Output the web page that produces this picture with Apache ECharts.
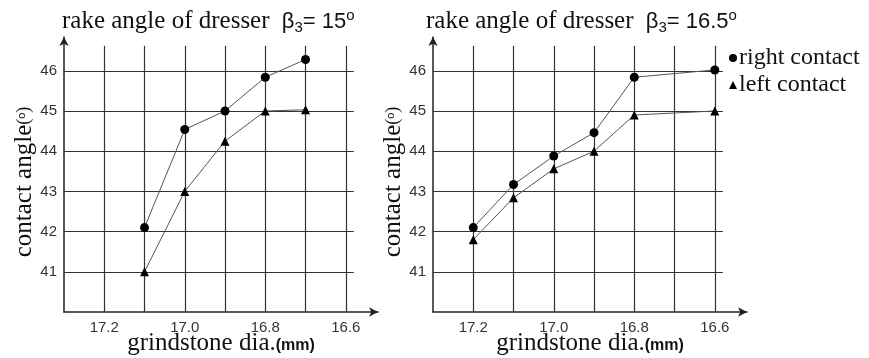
<!DOCTYPE html>
<html><head><meta charset="utf-8">
<script src="https://cdn.jsdelivr.net/npm/echarts@6/dist/echarts.min.js"></script>
<style>html,body{margin:0;padding:0;background:#fff}#c{width:869px;height:358px}</style>
</head><body><div id="c"></div>
<script>
// ---- data ----
const dia15 = [17.1, 17.0, 16.9, 16.8, 16.7];
const right15 = [42.1, 44.54, 45.0, 45.84, 46.28];
const left15 = [41.0, 43.0, 44.25, 45.0, 45.03];
const dia165 = [17.2, 17.1, 17.0, 16.9, 16.8, 16.6];
const right165 = [42.1, 43.17, 43.88, 44.46, 45.84, 46.02];
const left165 = [41.8, 42.84, 43.56, 44.0, 44.9, 45.0];
const xTickLabels = [17.2, 17.0, 16.8, 16.6];
const yTickLabels = [41, 42, 43, 44, 45, 46];
const xGridValues = [17.2, 17.1, 17.0, 16.9, 16.8, 16.7, 16.6];
const yGridValues = [41, 42, 43, 44, 45, 46];

const SERIF = 'Liberation Serif', SANS = 'Liberation Sans';
const X_MIN = 16.52, X_MAX = 17.3, Y_MIN = 40, Y_MAX = 46.84;
const GRID_TOP_VAL = 46.62, GRID_RIGHT_VAL = 16.58;

function pairs(xs, ys) { return xs.map((x, i) => [x, ys[i]]); }

function gridLines() {
  const d = [];
  xGridValues.forEach(x => d.push([{ coord: [x, Y_MIN] }, { coord: [x, GRID_TOP_VAL] }]));
  yGridValues.forEach(y => d.push([{ coord: [X_MAX, y] }, { coord: [GRID_RIGHT_VAL, y] }]));
  return d;
}

function xAxis(i) {
  return {
    type: 'value', gridIndex: i, inverse: true, min: X_MIN, max: X_MAX,
    splitLine: { show: false }, axisTick: { show: false },
    axisLine: { show: true, lineStyle: { color: '#222', width: 1.5 }, symbol: ['none', 'arrow'], symbolSize: [7, 9] },
    axisLabel: { customValues: xTickLabels, formatter: v => v.toFixed(1), margin: 8,
      fontFamily: SANS, fontSize: 15, color: '#333' },
    name: '{s|grindstone dia.}{m|(mm)}', nameLocation: 'middle', nameGap: 19, nameMoveOverlap: false,
    nameTextStyle: { rich: {
      s: { fontFamily: SERIF, fontSize: 25, color: '#111' },
      m: { fontFamily: SANS, fontSize: 16, fontWeight: 'bold', color: '#111', padding: [4, 0, 0, 0] }
    } }
  };
}
function yAxis(i) {
  return {
    type: 'value', gridIndex: i, min: Y_MIN, max: Y_MAX, interval: 1,
    splitLine: { show: false }, axisTick: { show: false },
    axisLine: { show: true, lineStyle: { color: '#222', width: 1.5 }, symbol: ['none', 'arrow'], symbolSize: [7, 9] },
    axisLabel: { customValues: yTickLabels, margin: 7, fontFamily: SANS, fontSize: 15, color: '#333' },
    name: '{s|contact angle}{p|(}{o|o}{p|)}', nameLocation: 'middle', nameRotate: 90, nameGap: 27, nameMoveOverlap: false,
    nameTextStyle: { padding: [0, 15, 0, 0], rich: {
      s: { fontFamily: SERIF, fontSize: 25, color: '#111' },
      p: { fontFamily: SERIF, fontSize: 18, color: '#111' },
      o: { fontFamily: SANS, fontSize: 11, color: '#111', padding: [0, 0, 6, 0] }
    } }
  };
}
function titleRich() {
  return {
    s: { fontFamily: SERIF, fontSize: 25, fontWeight: 'normal', color: '#111', padding: [0, 6, 0, 0] },
    g: { fontFamily: SANS, fontSize: 22, fontWeight: 'normal', color: '#111' },
    sub: { fontFamily: SANS, fontSize: 15, fontWeight: 'normal', color: '#111', padding: [12, 0, 0, 0] },
    sup: { fontFamily: SANS, fontSize: 15, fontWeight: 'normal', color: '#111', padding: [0, 0, 12, 0] }
  };
}
function dataSeries(name, sym, data, gi) {
  return {
    type: 'line', name, xAxisIndex: gi, yAxisIndex: gi, data, z: 5,
    symbol: sym, symbolSize: 9, showSymbol: true,
    itemStyle: { color: '#000' }, lineStyle: { color: '#555', width: 1 }
  };
}
function gridSeries(gi) {
  return {
    type: 'line', name: 'grid' + gi, xAxisIndex: gi, yAxisIndex: gi, data: [], z: 1,
    markLine: { silent: true, symbol: ['none', 'none'], label: { show: false },
      lineStyle: { color: '#333', width: 1.2, type: 'solid' }, data: gridLines() }
  };
}

const chart = echarts.init(document.getElementById('c'), null, { renderer: 'canvas' });
chart.setOption({
  animation: false,
  backgroundColor: '#fff',
  title: [
    { left: 58, top: 6, padding: [2, 4], text: '{s|rake angle of dresser }{g|β}{sub|3}{g|= 15}{sup|o}', textStyle: { fontWeight: 'normal', rich: titleRich() } },
    { left: 422, top: 6, padding: [2, 4], text: '{s|rake angle of dresser }{g|β}{sub|3}{g|= 16.5}{sup|o}', textStyle: { fontWeight: 'normal', rich: titleRich() } }
  ],
  legend: {
    orient: 'vertical', left: 724, top: 41, itemWidth: 8, itemHeight: 8, itemGap: 3,
    data: [{ name: 'right contact', icon: 'circle' }, { name: 'left contact', icon: 'triangle' }],
    textStyle: { fontFamily: SERIF, fontSize: 24, color: '#111', padding: [0, 0, 0, -3] }
  },
  grid: [
    { left: 64, top: 37, width: 314, height: 275, outerBoundsMode: 'none', containLabel: false },
    { left: 433, top: 37, width: 314, height: 275, outerBoundsMode: 'none', containLabel: false }
  ],
  xAxis: [xAxis(0), xAxis(1)],
  yAxis: [yAxis(0), yAxis(1)],
  series: [
    gridSeries(0), gridSeries(1),
    dataSeries('right contact', 'circle', pairs(dia15, right15), 0),
    dataSeries('left contact', 'triangle', pairs(dia15, left15), 0),
    dataSeries('right contact', 'circle', pairs(dia165, right165), 1),
    dataSeries('left contact', 'triangle', pairs(dia165, left165), 1)
  ]
});
</script></body></html>
